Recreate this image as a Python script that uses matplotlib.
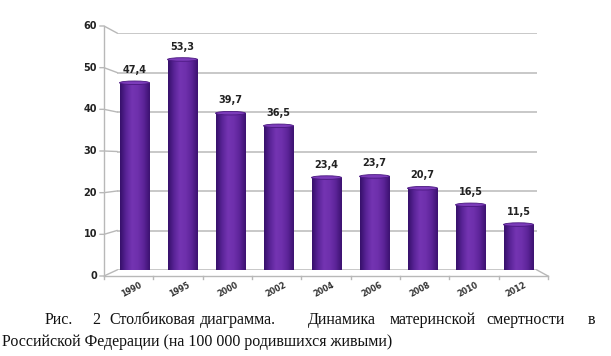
"""Bar chart: maternal mortality in Russia (per 100 000 live births)."""

import matplotlib

matplotlib.use("Agg")
import matplotlib.pyplot as plt
import numpy as np
from matplotlib.colors import LinearSegmentedColormap
from matplotlib.patches import Ellipse

years = ["1990", "1995", "2000", "2002", "2004", "2006", "2008", "2010", "2012"]
values = [47.4, 53.3, 39.7, 36.5, 23.4, 23.7, 20.7, 16.5, 11.5]
value_labels = ["47,4", "53,3", "39,7", "36,5", "23,4", "23,7", "20,7", "16,5", "11,5"]
y_ticks = [0, 10, 20, 30, 40, 50, 60]

caption_words = ["Рис.", "2", "Столбиковая", "диаграмма.", "Динамика",
                 "материнской", "смертности", "в"]
caption_line2 = "Российской Федерации (на 100 000 родившихся живыми)"

W, H = 611, 356
fig = plt.figure(figsize=(W / 100, H / 100), dpi=100)

# axes placed in pixel units (back wall of the pseudo-3D chart)
left, right, top, bottom = 117, 537, 33, 270
ax = fig.add_axes([left / W, 1 - bottom / H, (right - left) / W, (bottom - top) / H])
ax.set_xlim(-0.365, 8.385)
ax.set_ylim(0, 60)
for s in ax.spines.values():
    s.set_visible(False)
ax.set_xticks([])
ax.set_yticks([])
for t in y_ticks:
    ax.axhline(t, color="#c4c4c4", lw=1.3, zorder=0)

cmap = LinearSegmentedColormap.from_list(
    "cyl", ["#36106a", "#5a2498", "#7434b2", "#6e30ac", "#5c2498", "#3c1270"])
grad = np.linspace(0, 1, 64).reshape(1, -1)
bw = 0.625
for i, v in enumerate(values):
    x0 = i - bw / 2
    rect = plt.Rectangle((x0, 0), bw, v, transform=ax.transData, facecolor="none",
                         edgecolor="none")
    ax.add_patch(rect)
    im = ax.imshow(grad, cmap=cmap, aspect="auto", extent=(x0, x0 + bw, 0, v),
                   zorder=2, interpolation="bicubic")
    im.set_clip_path(rect)
    ax.add_patch(Ellipse((i, v), bw, 0.9, facecolor="#7c3cba", edgecolor="#4a1880",
                         lw=0.6, zorder=3))
    ax.text(i, v + 2.0, value_labels[i], ha="center", va="bottom", fontsize=7,
            fontweight="bold", color="#222222", zorder=4)
    ax.text(i - 0.05, -2.6, years[i], ha="center", va="top", fontsize=5.8,
            fontweight="bold", color="#333333", rotation=28, zorder=4)
ax.set_autoscale_on(False)

# front axis lines and perspective connectors drawn in figure pixels
def px(x, y):
    return x / W, 1 - y / H

front_x, front_top, front_bot = 104, 26, 276
fig.add_artist(plt.Line2D(*zip(px(front_x, front_top), px(front_x, front_bot)),
                          color="#b8b8b8", lw=1.0))
fig.add_artist(plt.Line2D(*zip(px(front_x, front_bot), px(548, front_bot)),
                          color="#b8b8b8", lw=1.0))
fig.add_artist(plt.Line2D(*zip(px(537, bottom), px(548, front_bot)),
                          color="#b8b8b8", lw=1.0))
for t in y_ticks:
    yb = bottom - (bottom - top) * t / 60
    yf = front_bot - (front_bot - front_top) * t / 60
    fig.add_artist(plt.Line2D(*zip(px(front_x - 4, yf), px(front_x, yf), px(left, yb)),
                              color="#b8b8b8", lw=1.0))
    fig.text(*px(97, yf), str(t), ha="right", va="center", fontsize=7,
             fontweight="bold", color="#222222")
for i in range(len(years) + 1):
    xf = front_x + (548 - front_x) * i / len(years)
    fig.add_artist(plt.Line2D(*zip(px(xf, front_bot), px(xf, front_bot + 3)),
                              color="#b8b8b8", lw=1.0))

# caption, first line justified word by word
word_x = [45, 92, 109, 200, 308, 390, 486, 588]
for wx, word in zip(word_x, caption_words):
    fig.text(*px(wx, 320), word, ha="left", va="center", fontsize=11.5,
             family="Liberation Serif", color="#111111")
fig.text(*px(2, 342), caption_line2, ha="left", va="center", fontsize=11.5,
         family="Liberation Serif", color="#111111")

fig.savefig("out.png", dpi=100, facecolor="white")
